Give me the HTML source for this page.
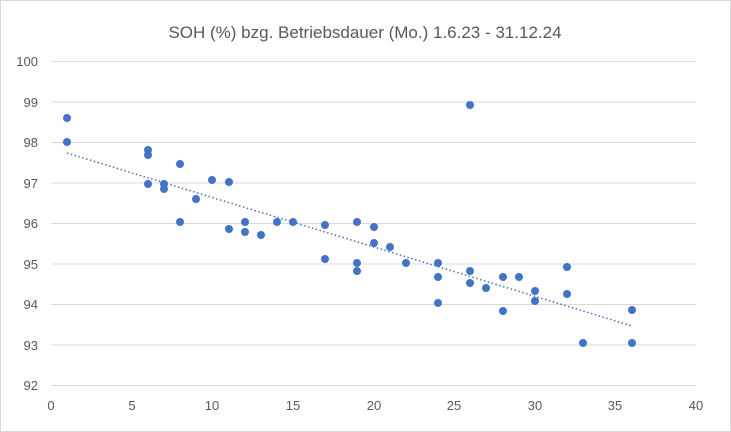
<!DOCTYPE html>
<html><head><style>body{margin:0;background:#fff}svg{display:block}</style></head><body>
<svg width="731" height="432" xmlns="http://www.w3.org/2000/svg" font-family="Liberation Sans, sans-serif">
<rect x="0.5" y="0.5" width="730" height="431" fill="#fff" stroke="#d9d9d9"/>
<text x="365" y="38" text-anchor="middle" font-size="17" fill="#595959">SOH (%) bzg. Betriebsdauer (Mo.) 1.6.23 - 31.12.24</text>
<g stroke="#d9d9d9" stroke-width="1">
<line x1="51" x2="696" y1="61.5" y2="61.5"/><line x1="51" x2="696" y1="102" y2="102"/>
<line x1="51" x2="696" y1="142.5" y2="142.5"/><line x1="51" x2="696" y1="183" y2="183"/>
<line x1="51" x2="696" y1="223.5" y2="223.5"/><line x1="51" x2="696" y1="264" y2="264"/>
<line x1="51" x2="696" y1="304.5" y2="304.5"/><line x1="51" x2="696" y1="345" y2="345"/>
<line x1="51" x2="696" y1="385.5" y2="385.5"/>
</g>
<g font-size="13" fill="#595959" text-anchor="end">
<text x="38" y="66">100</text><text x="38" y="107">99</text><text x="38" y="147">98</text>
<text x="38" y="188">97</text><text x="38" y="228">96</text><text x="38" y="269">95</text>
<text x="38" y="309">94</text><text x="38" y="350">93</text><text x="38" y="390">92</text>
</g>
<g font-size="13" fill="#595959" text-anchor="middle">
<text x="51" y="410">0</text><text x="132" y="410">5</text><text x="212" y="410">10</text>
<text x="293" y="410">15</text><text x="374" y="410">20</text><text x="454" y="410">25</text>
<text x="535" y="410">30</text><text x="615" y="410">35</text><text x="696" y="410">40</text>
</g>
<line x1="67" y1="153" x2="632" y2="326" stroke="#4472c4" stroke-width="1.5" stroke-dasharray="1.5,2.5"/>
<g fill="#4472c4">
<circle cx="67" cy="118" r="4"/><circle cx="67" cy="142" r="4"/>
<circle cx="148" cy="150" r="4"/><circle cx="148" cy="155" r="4"/><circle cx="148" cy="184" r="4"/>
<circle cx="164" cy="184" r="4"/><circle cx="164" cy="189" r="4"/>
<circle cx="180" cy="164" r="4"/><circle cx="180" cy="222" r="4"/>
<circle cx="196" cy="199" r="4"/><circle cx="212" cy="180" r="4"/>
<circle cx="229" cy="182" r="4"/><circle cx="229" cy="229" r="4"/>
<circle cx="245" cy="222" r="4"/><circle cx="245" cy="232" r="4"/>
<circle cx="261" cy="235" r="4"/><circle cx="277" cy="222" r="4"/><circle cx="293" cy="222" r="4"/>
<circle cx="325" cy="225" r="4"/><circle cx="325" cy="259" r="4"/>
<circle cx="357" cy="222" r="4"/><circle cx="357" cy="263" r="4"/><circle cx="357" cy="271" r="4"/>
<circle cx="374" cy="227" r="4"/><circle cx="374" cy="243" r="4"/>
<circle cx="390" cy="247" r="4"/><circle cx="406" cy="263" r="4"/>
<circle cx="438" cy="263" r="4"/><circle cx="438" cy="277" r="4"/><circle cx="438" cy="303" r="4"/>
<circle cx="470" cy="105" r="4"/><circle cx="470" cy="271" r="4"/><circle cx="470" cy="283" r="4"/>
<circle cx="486" cy="288" r="4"/>
<circle cx="503" cy="277" r="4"/><circle cx="503" cy="311" r="4"/><circle cx="519" cy="277" r="4"/>
<circle cx="535" cy="291" r="4"/><circle cx="535" cy="301" r="4"/>
<circle cx="567" cy="267" r="4"/><circle cx="567" cy="294" r="4"/>
<circle cx="583" cy="343" r="4"/>
<circle cx="632" cy="310" r="4"/><circle cx="632" cy="343" r="4"/>
</g>
</svg>
</body></html>
